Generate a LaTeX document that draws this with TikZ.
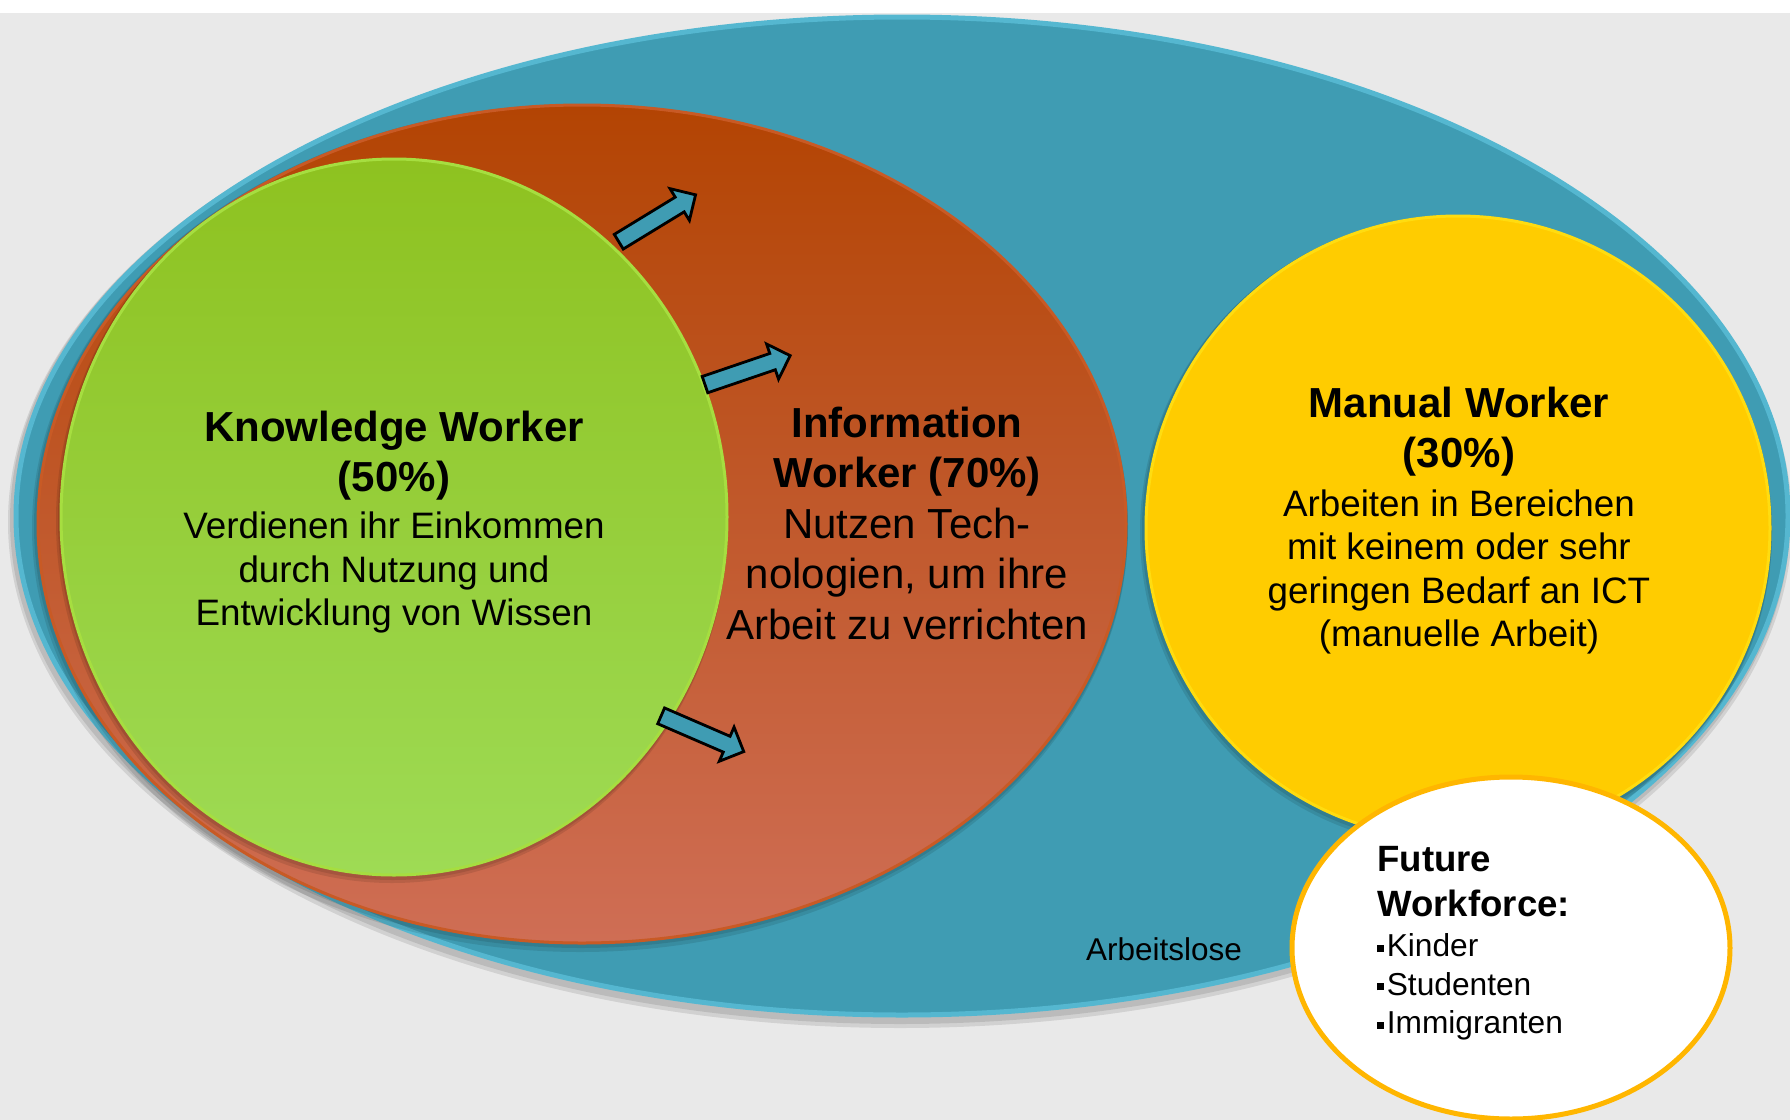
\documentclass[tikz,border=0pt]{standalone}
\usepackage{fontspec}
\setmainfont{Liberation Sans}
\usetikzlibrary{shapes.geometric,shapes.arrows}
\definecolor{bggray}{HTML}{E9E9E9}
\definecolor{bluefill}{HTML}{3F9CB3}
\definecolor{bluerim}{HTML}{55B7D0}
\definecolor{orgtop}{HTML}{B34403}
\definecolor{orgmid}{HTML}{BF5526}
\definecolor{orgbot}{HTML}{CF6E55}
\definecolor{orgrim}{HTML}{C85A25}
\definecolor{grntop}{HTML}{8EC220}
\definecolor{grnbot}{HTML}{9EDB55}
\definecolor{grnrim}{HTML}{A6DE40}
\definecolor{yel}{HTML}{FFCC00}
\definecolor{yelrim}{HTML}{FFDC10}
\definecolor{wfring}{HTML}{FFB600}
\definecolor{arrowblue}{HTML}{3F9CB3}
\begin{document}
\begin{tikzpicture}[x=0.5pt,y=-0.5pt,
  blob/.style={ellipse, inner sep=0pt, outer sep=0pt},
  shadowfill/.style={fill=black, opacity=0.10},
  arw/.style={single arrow, draw=black, line width=1.4pt, fill=arrowblue, inner sep=3.6pt, minimum height=45pt, minimum width=17.5pt, single arrow head extend=5pt},
  ttl/.style={font=\fontsize{21}{25}\selectfont\bfseries, anchor=base, inner sep=0pt},
  bodytxt/.style={font=\fontsize{18.4}{22}\selectfont, anchor=base, inner sep=0pt},
  infotxt/.style={font=\fontsize{21}{25}\selectfont, anchor=base, inner sep=0pt},
  fwttl/.style={font=\fontsize{18.3}{22}\selectfont\bfseries, anchor=base west, inner sep=0pt},
  fwitem/.style={font=\fontsize{15.85}{19}\selectfont, anchor=base west, inner sep=0pt},
  smalltxt/.style={font=\fontsize{15.75}{19}\selectfont, anchor=base, inner sep=0pt}]

\useasboundingbox (0,0) rectangle (1790,1120);
\fill[white] (0,0) rectangle (1790,1120);
\fill[bggray] (0,13) rectangle (1790,1120);

% blue (Arbeitslose) ellipse
\fill[shadowfill] (900,522) ellipse [x radius=446pt, y radius=253pt];
\fill[shadowfill] (900,520) ellipse [x radius=445pt, y radius=252pt];
\node[blob, fill=bluefill, draw=bluerim, line width=2.5pt, minimum width=886pt, minimum height=499pt] (unemployed) at (902,516) {};

% orange (information worker) ellipse
\fill[shadowfill] (580,528) ellipse [x radius=274pt, y radius=212pt];
\fill[shadowfill] (581,526) ellipse [x radius=273.5pt, y radius=211pt];
\node[blob, top color=orgtop, middle color=orgmid, bottom color=orgbot, draw=orgrim, line width=1.5pt, minimum width=544pt, minimum height=419pt] (info) at (582,524) {};

% green (knowledge worker) ellipse
\fill[shadowfill] (392,521) ellipse [x radius=168pt, y radius=181pt];
\fill[shadowfill] (393,519) ellipse [x radius=167.5pt, y radius=180.5pt];
\node[blob, top color=grntop, bottom color=grnbot, draw=grnrim, line width=1.5pt, minimum width=333pt, minimum height=358pt] (knowledge) at (394,517) {};

% yellow (manual worker) circle
\fill[shadowfill] (1456,532) ellipse [x radius=158pt, y radius=158pt];
\fill[shadowfill] (1457,530) ellipse [x radius=157.5pt, y radius=157.5pt];
\node[blob, fill=yel, draw=yelrim, line width=1.5pt, minimum width=312pt, minimum height=312pt] (manual) at (1458,528) {};

% arrows
\node[arw, rotate=31.4] (a1) at (653.5,220.5) {};
\node[arw, rotate=18.8] (a2) at (743.5,371.5) {};
\node[arw, rotate=-23.4] (a3) at (698.5,732) {};

% future workforce ellipse
\node[blob, fill=white, draw=wfring, line width=2.5pt, minimum width=219pt, minimum height=171pt] (future) at (1511,948) {};

% texts: knowledge worker
\node[ttl] (k1) at (394,441.7) {Knowledge Worker};
\node[ttl] (k2) at (394,491.7) {(50\%)};
\node[bodytxt] (k3) at (394,538.3) {Verdienen ihr Einkommen};
\node[bodytxt] (k4) at (394,582.5) {durch Nutzung und};
\node[bodytxt] (k5) at (394,625.5) {Entwicklung von Wissen};

% texts: information worker
\node[ttl] (i1) at (907,437.3) {Information};
\node[ttl] (i2) at (907,487.3) {Worker (70\%)};
\node[infotxt] (i3) at (907,538.3) {Nutzen Tech-};
\node[infotxt] (i4) at (907,588.5) {nologien, um ihre};
\node[infotxt] (i5) at (907,639.5) {Arbeit zu verrichten};

% texts: manual worker
\node[ttl] (m1) at (1459,417.3) {Manual Worker};
\node[ttl] (m2) at (1459,467.3) {(30\%)};
\node[bodytxt] (m3) at (1459,516) {Arbeiten in Bereichen};
\node[bodytxt] (m4) at (1459,559.5) {mit keinem oder sehr};
\node[bodytxt] (m5) at (1459,603.2) {geringen Bedarf an ICT};
\node[bodytxt] (m6) at (1459,646.7) {(manuelle Arbeit)};

% texts: future workforce
\node[fwttl] (f1) at (1377,871.7) {Future};
\node[fwttl] (f2) at (1377,916.7) {Workforce:};
\node[fwitem] (f3) at (1377,956.7) {\rule[2.3pt]{3.5pt}{3.5pt}\hspace{1.2pt}Kinder};
\node[fwitem] (f4) at (1377,995) {\rule[2.3pt]{3.5pt}{3.5pt}\hspace{1.2pt}Studenten};
\node[fwitem] (f5) at (1377,1033.3) {\rule[2.3pt]{3.5pt}{3.5pt}\hspace{1.2pt}Immigranten};

% unemployed label
\node[smalltxt] (u1) at (1164,960) {Arbeitslose};
\end{tikzpicture}
\end{document}
